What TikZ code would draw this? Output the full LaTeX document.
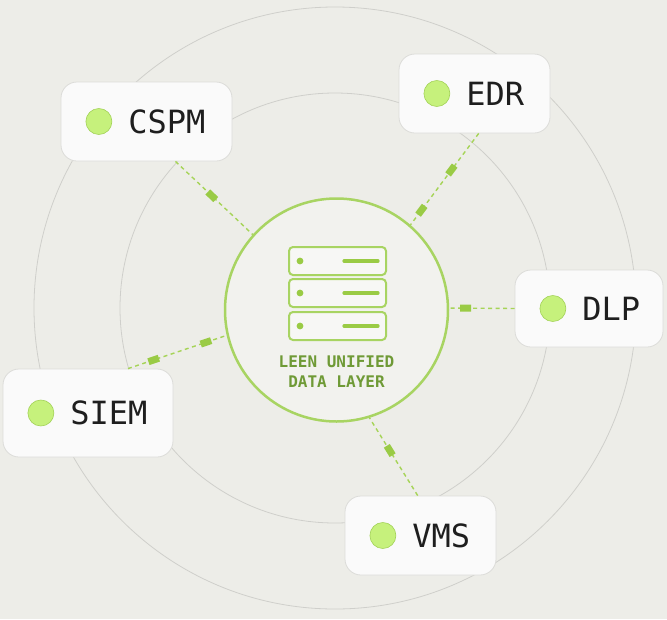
\documentclass[tikz,border=0pt]{standalone}
\usepackage{fontspec}
\setmonofont{DejaVu Sans Mono}
\usetikzlibrary{positioning}

\definecolor{paper}{HTML}{EDEDE8}
\definecolor{hubfill}{HTML}{F2F2EE}
\definecolor{hubgreen}{HTML}{A8D462}
\definecolor{ringgrey}{HTML}{CFCFCB}
\definecolor{cardfill}{HTML}{FAFAFA}
\definecolor{cardline}{HTML}{DCDCD9}
\definecolor{bulletfill}{HTML}{C6F17C}
\definecolor{bulletline}{HTML}{A3D258}
\definecolor{inkblack}{HTML}{1E1E1E}
\definecolor{linkgreen}{HTML}{A6D457}
\definecolor{packetgreen}{HTML}{9ACB45}
\definecolor{labelolive}{HTML}{6F9A36}

\tikzset{
  ring/.style={draw=ringgrey, line width=0.8pt},
  card/.style={draw=cardline, fill=cardfill, rounded corners=16pt, line width=0.8pt, inner sep=0pt},
  bullet/.style={circle, draw=bulletline, fill=bulletfill, minimum size=26pt, inner sep=0pt, line width=0.6pt},
  cardtext/.style={inner sep=0pt, font=\fontsize{32}{36}\selectfont\ttfamily, text=inkblack},
  link/.style={draw=linkgreen, line width=1.4pt, dash pattern=on 4pt off 3.5pt},
  packet/.style={sloped, fill=packetgreen, minimum width=11pt, minimum height=7pt, inner sep=0pt},
  rack/.style={draw=hubgreen, fill=hubfill!60!white, line width=2pt, rounded corners=4pt},
  hubtext/.style={inner sep=0pt, align=center, font=\fontsize{16}{20}\selectfont\ttfamily\bfseries, text=labelolive},
}

\begin{document}
\begin{tikzpicture}[x=1pt, y=-1pt]
    \useasboundingbox[fill=paper] (0,0) rectangle (667,619);

    % rings
    \draw[ring] (335,308) circle (301pt);
    \draw[ring] (335,308) circle (215pt);

    % hub
    \node[circle, draw=hubgreen, fill=hubfill, line width=2.5pt, minimum size=223pt, inner sep=0pt] (hub) at (336.5,310) {};
    \foreach \y in {261,293,326}{
        \draw[rack] (289,\y-14) rectangle (386,\y+14);
        \fill[packetgreen] (300,\y) circle (3.4pt);
        \draw[packetgreen, line width=3.2pt, line cap=round] (344,\y) -- (378,\y);
    }
    \node[hubtext] (hub-label) at (336.5,372) {LEEN UNIFIED\\DATA LAYER};

    % cards
    \foreach \name/\txt/\x/\y/\w/\h in {cspm/CSPM/146.5/121.5/171/79,
                                        edr/EDR/474.5/93.5/151/79,
                                        dlp/DLP/589/308.5/148/77,
                                        siem/SIEM/88/413/170/88,
                                        vms/VMS/420.5/535.5/151/79}{
        \node[card, minimum width=\w pt, minimum height=\h pt] (\name) at (\x,\y) {};
        \node[bullet, right=25pt of \name.west] (\name-dot) {};
        \node[cardtext, right=16pt of \name-dot] (\name-txt) {\txt};
    }

    % links
    \draw[link] (cspm.-54) -- (hub.138) node[packet, pos=.47]{};
    \draw[link] (edr.-84) -- (hub.49) node[packet, pos=.40]{} node[packet, pos=.84]{};
    \draw[link] (dlp.west) -- (hub.1) node[packet, pos=.75]{};
    \draw[link] (siem.48) -- (hub.-167) node[packet, pos=.26]{} node[packet, pos=.79]{};
    \draw[link] (vms.94) -- (hub.-73) node[packet, pos=.58]{};
\end{tikzpicture}
\end{document}
